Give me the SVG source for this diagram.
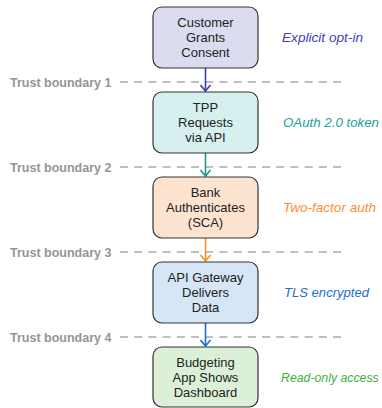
<svg xmlns="http://www.w3.org/2000/svg" width="382" height="408" viewBox="0 0 382 408">
<style>
.node{stroke:#333;stroke-width:1.2}
.nt{font-family:"Liberation Sans",Arial,sans-serif;font-size:13px;fill:#222;text-anchor:middle}
.ann{font-family:"Liberation Sans",Arial,sans-serif;font-size:13px;font-style:italic}
.tb{font-family:"Liberation Sans",Arial,sans-serif;font-size:12.5px;font-weight:bold;fill:#959595}
.bd{stroke:#aaa;stroke-width:1.4;stroke-dasharray:8 6.2;fill:none}
.ar{stroke-width:1.6;fill:none}
</style>
<defs>
<marker id="m1" viewBox="0 0 12 12" refX="10" refY="6" markerWidth="12" markerHeight="12" markerUnits="userSpaceOnUse" orient="auto"><path d="M4,1 L10,6 L4,11" fill="none" stroke="#3c3cb4" stroke-width="1.6"/></marker>
<marker id="m2" viewBox="0 0 12 12" refX="10" refY="6" markerWidth="12" markerHeight="12" markerUnits="userSpaceOnUse" orient="auto"><path d="M4,1 L10,6 L4,11" fill="none" stroke="#1e9696" stroke-width="1.6"/></marker>
<marker id="m3" viewBox="0 0 12 12" refX="10" refY="6" markerWidth="12" markerHeight="12" markerUnits="userSpaceOnUse" orient="auto"><path d="M4,1 L10,6 L4,11" fill="none" stroke="#ff8c28" stroke-width="1.6"/></marker>
<marker id="m4" viewBox="0 0 12 12" refX="10" refY="6" markerWidth="12" markerHeight="12" markerUnits="userSpaceOnUse" orient="auto"><path d="M4,1 L10,6 L4,11" fill="none" stroke="#1e6ed2" stroke-width="1.6"/></marker>
</defs>

<g id="boundaries">
<line class="bd" x1="120" y1="82" x2="347" y2="82"/>
<text class="tb" x="10" y="86.5">Trust boundary 1</text>
<line class="bd" x1="120" y1="167" x2="347" y2="167"/>
<text class="tb" x="10" y="171.5">Trust boundary 2</text>
<line class="bd" x1="120" y1="252" x2="347" y2="252"/>
<text class="tb" x="10" y="256.5">Trust boundary 3</text>
<line class="bd" x1="120" y1="337" x2="347" y2="337"/>
<text class="tb" x="10" y="341.5">Trust boundary 4</text>
</g>

<g id="connectors">
<line class="ar" x1="205.5" y1="68" x2="205.5" y2="91" stroke="#3c3cb4" marker-end="url(#m1)"/>
<line class="ar" x1="205.5" y1="153" x2="205.5" y2="176" stroke="#1e9696" marker-end="url(#m2)"/>
<line class="ar" x1="205.5" y1="238" x2="205.5" y2="261" stroke="#ff8c28" marker-end="url(#m3)"/>
<line class="ar" x1="205.5" y1="323" x2="205.5" y2="346" stroke="#1e6ed2" marker-end="url(#m4)"/>
</g>

<g id="n1">
<rect class="node" x="153" y="7" width="105" height="61" rx="9" fill="#dcdcf0"/>
<text class="nt" x="205.5" y="26.5">Customer</text>
<text class="nt" x="205.5" y="41.5">Grants</text>
<text class="nt" x="205.5" y="56.5">Consent</text>
</g>
<g id="n2">
<rect class="node" x="153" y="92" width="105" height="61" rx="9" fill="#d6efef"/>
<text class="nt" x="205.5" y="111.5">TPP</text>
<text class="nt" x="205.5" y="126.5">Requests</text>
<text class="nt" x="205.5" y="141.5">via API</text>
</g>
<g id="n3">
<rect class="node" x="153" y="177" width="105" height="61" rx="9" fill="#fde4d0"/>
<text class="nt" x="205.5" y="196.5">Bank</text>
<text class="nt" x="205.5" y="211.5">Authenticates</text>
<text class="nt" x="205.5" y="226.5">(SCA)</text>
</g>
<g id="n4">
<rect class="node" x="153" y="262" width="105" height="61" rx="9" fill="#d6e6f6"/>
<text class="nt" x="205.5" y="281.5">API Gateway</text>
<text class="nt" x="205.5" y="296.5">Delivers</text>
<text class="nt" x="205.5" y="311.5">Data</text>
</g>
<g id="n5">
<rect class="node" x="153" y="347" width="105" height="60" rx="9" fill="#dcf0d8"/>
<text class="nt" x="205.5" y="366.5">Budgeting</text>
<text class="nt" x="205.5" y="381.5">App Shows</text>
<text class="nt" x="205.5" y="396.5">Dashboard</text>
</g>

<g id="annotations">
<text class="ann" x="282" y="42" fill="#4040c0" textLength="81" lengthAdjust="spacingAndGlyphs">Explicit opt-in</text>
<text class="ann" x="283" y="127" fill="#20a0a0" textLength="96" lengthAdjust="spacingAndGlyphs">OAuth 2.0 token</text>
<text class="ann" x="283" y="212" fill="#ff8c30" textLength="93" lengthAdjust="spacingAndGlyphs">Two-factor auth</text>
<text class="ann" x="284" y="297" fill="#2070d0" textLength="85" lengthAdjust="spacingAndGlyphs">TLS encrypted</text>
<text class="ann" x="281" y="382" fill="#40b040" style="font-size:12.3px">Read-only access</text>
</g>
</svg>
